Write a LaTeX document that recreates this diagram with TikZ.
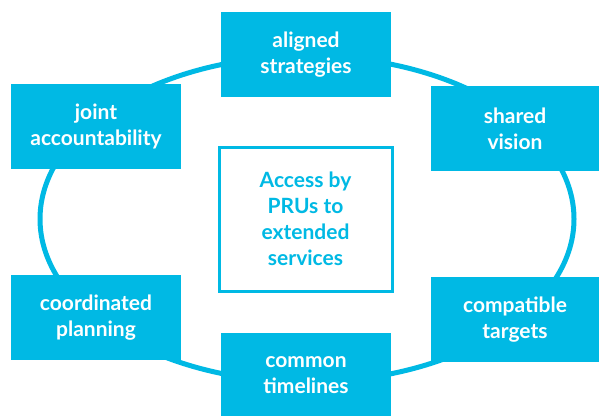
\documentclass[tikz,border=0pt]{standalone}
\usepackage{fontspec}
\setmainfont{Lato}
\definecolor{ringcyan}{HTML}{00B9E4}
\begin{document}
\begin{tikzpicture}[x=1pt,y=-1pt,
  pill/.style={fill=ringcyan, draw=none, minimum width=170pt, minimum height=85pt,
    inner sep=0pt, align=center, text=white, font=\fontsize{21}{26}\selectfont\bfseries},
  hub/.style={draw=ringcyan, line width=3pt, fill=white, minimum width=173pt, minimum height=144pt,
    inner sep=0pt, align=center, text=ringcyan, font=\fontsize{21}{26}\selectfont\bfseries},
  ring/.style={draw=ringcyan, line width=5pt}]
\useasboundingbox (0,0) rectangle (599,415);
\clip (0,0) rectangle (599,415);
% the ring that links the six practices
\draw[ring] (307,219) ellipse [x radius=267, y radius=163];
% central goal
\node[hub] (goal) at (305.5,219) {Access by\\PRUs to\\extended\\services};
% practices around the ring
\node[pill] (aligned) at (306,54.5) {aligned\\strategies};
\node[pill, minimum width=168pt] (shared) at (515,128.5) {shared\\vision};
\node[pill, minimum width=168pt] (compatible) at (515,319.5) {compatible\\targets};
\node[pill] (common) at (306,375.5) {common\\timelines};
\node[pill] (coordinated) at (96,317.5) {coordinated\\planning};
\node[pill] (joint) at (96,126.5) {joint\\accountability};
\end{tikzpicture}
\end{document}
